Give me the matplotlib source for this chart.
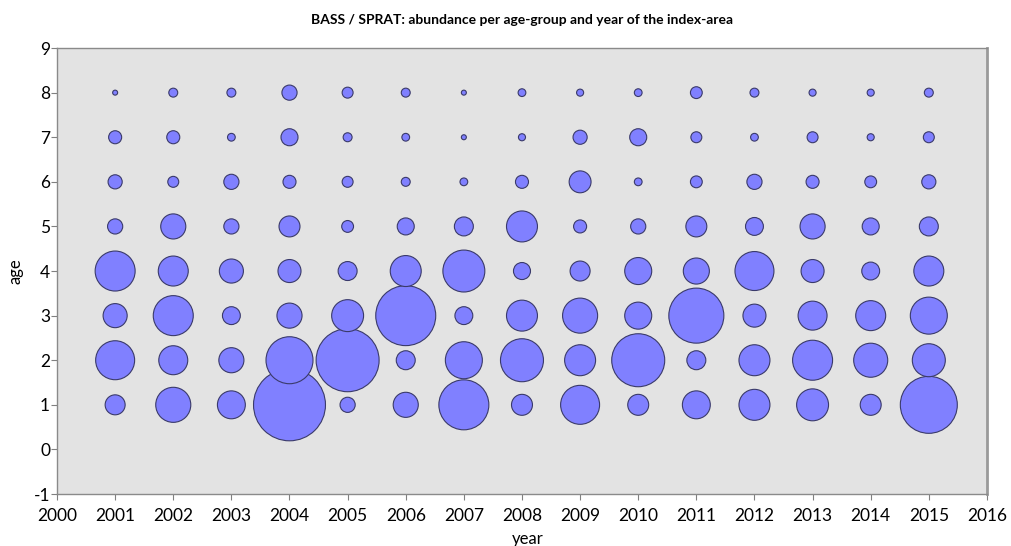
import numpy as np
import matplotlib.pyplot as plt

years = list(range(2001, 2016))
ages = [1, 2, 3, 4, 5, 6, 7, 8]

# abundance index per age group (rows) and year (columns)
abundance = {
    1: [4.0, 12.3, 7.8, 51.8, 2.3, 6.3, 25.0, 4.4, 15.2, 4.4, 7.8, 9.6, 10.2, 4.4, 32.5],
    2: [15.2, 8.4, 6.3, 22.1, 39.7, 3.6, 13.7, 18.5, 9.6, 28.1, 3.6, 9.6, 16.0, 11.6, 10.9],
    3: [5.8, 16.0, 3.2, 6.3, 10.2, 36.0, 3.2, 9.6, 12.3, 7.3, 30.3, 5.3, 8.4, 9.0, 13.7],
    4: [16.0, 9.0, 5.8, 5.3, 3.6, 9.6, 17.6, 2.9, 4.0, 7.3, 6.8, 15.2, 5.3, 3.2, 9.0],
    5: [2.3, 6.3, 2.3, 4.4, 1.4, 2.9, 3.6, 9.6, 1.7, 2.3, 4.4, 3.2, 6.3, 2.9, 3.6],
    6: [2.0, 1.2, 2.3, 1.7, 1.2, 0.8, 0.6, 1.7, 4.8, 0.6, 1.4, 2.3, 1.7, 1.4, 2.0],
    7: [1.7, 1.7, 0.6, 2.9, 0.8, 0.6, 0.25, 0.5, 2.0, 2.9, 1.2, 0.6, 1.2, 0.5, 1.2],
    8: [0.25, 0.8, 0.8, 2.3, 1.2, 0.8, 0.25, 0.6, 0.5, 0.6, 1.4, 0.8, 0.5, 0.5, 0.8],
}

plt.rcParams['font.family'] = ['Lato', 'DejaVu Sans']
plt.rcParams['axes.unicode_minus'] = False

fig = plt.figure(figsize=(10.11, 5.46), dpi=100)
ax = fig.add_axes([0.0564, 0.0952, 0.9198, 0.8168])
ax.set_facecolor('#e3e3e3')

xs, ys, vals = [], [], []
for age in ages:
    for year, v in zip(years, abundance[age]):
        xs.append(year)
        ys.append(age)
        vals.append(v)
vals = np.array(vals)

# marker area proportional to abundance
ax.scatter(xs, ys, s=vals * 51.8, c='#8080ff', edgecolors='#3a3a6a',
           linewidths=0.8, zorder=3)

ax.set_xlim(2000, 2016)
ax.set_ylim(-1, 9)
ax.set_xticks(range(2000, 2017))
ax.set_yticks(range(-1, 10))
ax.tick_params(direction='out', length=4, width=0.8, color='#808080',
               labelsize=12.5)
ax.tick_params(axis='x', pad=6)
ax.tick_params(axis='y', pad=1)
for side in ['left', 'bottom', 'top']:
    ax.spines[side].set_color('#8a8a8a')
    ax.spines[side].set_linewidth(1.0)
ax.spines['right'].set_color('#9a9a9a')
ax.spines['right'].set_linewidth(2.0)

fig.text(0.522, 1 - 539 / 546, 'year', ha='center', va='center', fontsize=12)
fig.text(15 / 1011, 1 - 271 / 546, 'age', ha='center', va='center',
         rotation=90, fontsize=12)
ax.set_title('BASS / SPRAT: abundance per age-group and year of the index-area',
             fontsize=10, fontweight='bold', pad=17)

fig.savefig('out.png', dpi=100)
